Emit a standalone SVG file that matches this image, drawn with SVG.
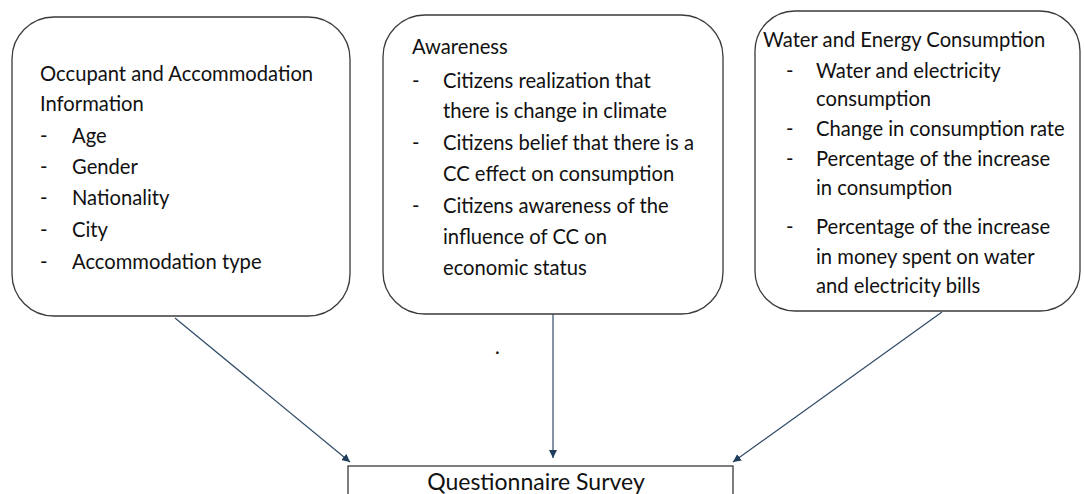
<svg xmlns="http://www.w3.org/2000/svg" width="1084" height="494" viewBox="0 0 1084 494">
<defs>
<style>
.box{fill:#fff;stroke:#3a3a3a;stroke-width:1.3}
.t{font-family:Lato,"Liberation Sans",sans-serif;font-size:20.2px;fill:#111}
.s{font-size:23px}
.c{stroke:#2f4b66;stroke-width:1.2;fill:none}
</style>
<marker id="ah" viewBox="0 0 10 10" refX="10" refY="5" markerWidth="8" markerHeight="8" orient="auto" markerUnits="userSpaceOnUse">
<path d="M0,0 L10,5 L0,10 z" fill="#1f3d5c"/>
</marker>
</defs>
<rect width="1084" height="494" fill="#fff"/>
<g id="node-occupant">
<rect class="box" x="12" y="17" width="338" height="299" rx="42" ry="42"/>
<text class="t" x="40" y="81">Occupant and Accommodation</text>
<text class="t" x="40" y="111">Information</text>
<text class="t" x="40" y="143">-</text><text class="t" x="72" y="143">Age</text>
<text class="t" x="40" y="174">-</text><text class="t" x="72" y="174">Gender</text>
<text class="t" x="40" y="205">-</text><text class="t" x="72" y="205">Nationality</text>
<text class="t" x="40" y="237">-</text><text class="t" x="72" y="237">City</text>
<text class="t" x="40" y="269">-</text><text class="t" x="72" y="269">Accommodation type</text>
</g>
<g id="node-awareness">
<rect class="box" x="383" y="15" width="340" height="299" rx="42" ry="42"/>
<text class="t" x="412" y="54">Awareness</text>
<text class="t" x="412" y="88">-</text><text class="t" x="443" y="88">Citizens realization that</text>
<text class="t" x="443" y="118">there is change in climate</text>
<text class="t" x="412" y="150">-</text><text class="t" x="443" y="150">Citizens belief that there is a</text>
<text class="t" x="443" y="181">CC effect on consumption</text>
<text class="t" x="412" y="213">-</text><text class="t" x="443" y="213">Citizens awareness of the</text>
<text class="t" x="443" y="244">influence of CC on</text>
<text class="t" x="443" y="275">economic status</text>
</g>
<g id="node-water">
<rect class="box" x="755" y="11" width="325" height="300" rx="40" ry="40"/>
<text class="t" x="763" y="47">Water and Energy Consumption</text>
<text class="t" x="786" y="78">-</text><text class="t" x="816" y="78">Water and electricity</text>
<text class="t" x="816" y="106">consumption</text>
<text class="t" x="786" y="136">-</text><text class="t" x="816" y="136">Change in consumption rate</text>
<text class="t" x="786" y="166">-</text><text class="t" x="816" y="166">Percentage of the increase</text>
<text class="t" x="816" y="195">in consumption</text>
<text class="t" x="786" y="234">-</text><text class="t" x="816" y="234">Percentage of the increase</text>
<text class="t" x="816" y="264">in money spent on water</text>
<text class="t" x="816" y="293">and electricity bills</text>
</g>
<g id="node-survey">
<rect class="box" x="348" y="466" width="385" height="40"/>
<text class="t s" x="536" y="490" text-anchor="middle">Questionnaire Survey</text>
</g>
<text class="t" x="495" y="354" font-size="14">.</text>
<g id="connectors">
<line class="c" x1="175" y1="318" x2="350" y2="462" marker-end="url(#ah)"/>
<line class="c" x1="553" y1="314" x2="553" y2="458" marker-end="url(#ah)"/>
<line class="c" x1="942" y1="312" x2="733" y2="462" marker-end="url(#ah)"/>
</g>
</svg>
